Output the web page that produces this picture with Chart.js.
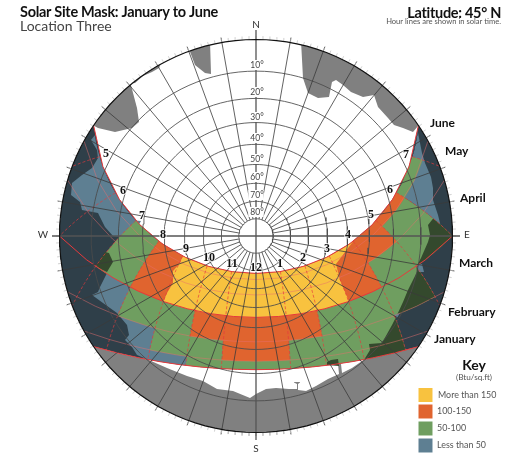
<!DOCTYPE html>
<html>
<head>
<meta charset="utf-8">
<style>html,body{margin:0;padding:0;background:#fff}canvas{display:block}</style>
<script src="https://cdn.jsdelivr.net/npm/chart.js@4"></script>
</head>
<body>
<canvas id="c" width="513" height="456"></canvas>
<script>
// ---- values ----
const LATITUDE = 45;
const DOME_RADIUS = 196.5;            // horizon, in sky-disc units
const altitudes = [10,20,30,40,50,60,70,80];
const azimuths = [0,10,20,30,40,50,60,70,80,90,100,110,120,130,140,150,160,170,180,190,200,210,220,230,240,250,260,270,280,290,300,310,320,330,340,350];
const monthNames = ['June','May','April','March','February','January'];
const JUN=23.45, MAY=20, APR=11.6, MAR=0, FEB=-11.6, JAN=-20, DEC=-23.45;
const boldPaths = [JUN, MAR, DEC];
const palePaths = [MAY, APR, FEB, JAN];
const hourLines = [5,6,7,8,9,10,11,13,14,15,16,17,18,19];
const hourLineEnds = [14.5,0,-14.5,DEC,DEC,DEC,DEC,DEC,DEC,DEC,DEC,-14.5,0,14.5];
const hourLabels = ['5','6','7','8','9','10','11','12','1','2','3','4','5','6','7'];
const keyLabels = ['More than 150','100-150','50-100','Less than 50'];
const keyColors = ['#f8c23f','#e0642f','#6f9e60','#5e7f92'];

// ---- sky projection (stereographic sun chart) ----
const rad = d => d*Math.PI/180;
function sky(az, alt){ const r = DOME_RADIUS*Math.tan(rad((90-alt)/2)); return [r*Math.sin(rad(az)), r*Math.cos(rad(az))]; }
function sun(h, d){
  const H=rad((h-12)*15), dd=rad(d), la=rad(LATITUDE);
  const s=Math.sin(la)*Math.sin(dd)+Math.cos(la)*Math.cos(dd)*Math.cos(H);
  const c=Math.sqrt(1-s*s), r=DOME_RADIUS*Math.tan((Math.PI/2-Math.asin(s))/2);
  return [r*Math.cos(dd)*Math.sin(H)/c, r*(Math.sin(dd)-s*Math.sin(la))/(c*Math.cos(la))];
}
function sunPath(d,h0,h1){ const o=[]; for(let i=0;i<=16;i++) o.push(sun(h0+(h1-h0)*i/16,d)); return o; }
function hourLine(h,d0,d1){ const o=[]; for(let i=0;i<=10;i++) o.push(sun(h,d0+(d1-d0)*i/10)); return o; }
function rimArc(a0,a1){ const o=[],n=Math.max(2,Math.ceil(Math.abs(a1-a0)/2)); for(let i=0;i<=n;i++) o.push(sky(a0+(a1-a0)*i/n,0)); return o; }

// ---- site obstructions seen above the horizon ----
const maskNorthA = [...rimArc(340.3,346.5),[-45,162],[-51,163],[-61,171]];
const maskNorthB = [...rimArc(321,331),[-97,168],[-104,164],[-113,160],[-121,153]];
const maskNorthWest = [...rimArc(304.2,320.4),[-119,128],[-117,114],[-124,108],[-141,104],[-158,108]];
const maskNorthEast = [...rimArc(13.3,55.8),[157,104],[147,108],[138,111],[132,118],[122,129],[118,141],[107,139],[95,144],[87,151],[80,156],[76,154],[73,139],[62,138],[52,143],[47,158]];
const maskSouth = [...rimArc(235.76,124.24),...sunPath(DEC,16.29,15),[96,-132],[86,-137],[85,-128],[82,-128],[83,-138],[72,-143],[60,-150],[50,-155],[42,-154],[42,-148],[44,-146.5],[44,-146],[38,-146],[38,-146.5],[41,-148],[41,-153],[33,-153],[20,-152],[10,-153],[0,-158],[-6,-162],[-23,-155],[-39,-153],[-53,-145],[-69,-140],[-89,-132],...sunPath(DEC,9,7.71)];

// ---- insolation zones on the sun-path diagram ----
const shadedBand = [...sunPath(JUN,4.29,19.71),...rimArc(55.76,124.24),...sunPath(DEC,16.29,7.71),...rimArc(235.76,304.24)];
const blueEast = [...sunPath(JUN,19,19.6),[166,83],[169,73],[175,59],[177,48],[177,36],[182,21],...hourLine(18,5,MAY)];
const blueWestUpper = [...sunPath(JUN,7,4.5),[-165,96],[-159,86],[-158,78],[-164,68],[-174,61],[-184,53],[-185,41],[-176,34],[-174,26],[-158,23],[-151,9],[-143,0],[-125,-2],[-115,15]];
const blueWestLower = [[-149,-37],[-131,-44],[-116,-69],[-86,-84],[-86,-109],[-66,-114],[-64,-126],...sunPath(DEC,10,9),[-119,-119],[-124,-111],[-131,-104],[-127,-99],[-129,-89],[-139,-77],[-153,-67],[-164,-59],[-158,-56],[-156,-51]];
const greenZone = [...sunPath(JUN,7,19),...hourLine(19,JUN,MAY),...sunPath(MAY,19,18),...hourLine(18,MAY,MAR),...sunPath(MAR,18,17),...hourLine(17,MAR,FEB),...sunPath(FEB,17,16),...hourLine(16,FEB,DEC),...sunPath(DEC,16,10),...hourLine(10,DEC,JAN),...sunPath(JAN,10,9),...hourLine(9,JAN,FEB),...sunPath(FEB,9,8),...hourLine(8,FEB,MAR),...sunPath(MAR,8,7),...hourLine(7,MAR,JUN)];
const orangeZone = [...sunPath(JUN,8,18),...hourLine(18,JUN,MAY),...sunPath(MAY,18,17),...hourLine(17,MAY,APR),...sunPath(APR,17,16),...hourLine(16,APR,MAR),...sunPath(MAR,16,14),...hourLine(14,MAR,FEB),...sunPath(FEB,14,13),...hourLine(13,FEB,JAN),...sunPath(JAN,13,11),...hourLine(11,JAN,FEB),...sunPath(FEB,11,10),...hourLine(10,FEB,MAR),...sunPath(MAR,10,8),...hourLine(8,MAR,JUN)];
const yellowZone = [...sunPath(JUN,9,16),[80,-28],[84,-44],[92,-63],...sunPath(MAR,15,9),[-89,-57],[-83,-47],[-83,-35],[-76,-27]];
const darkGreenEast = [[172,11],...hourLine(18,8,MAR),...sunPath(MAR,18,17),[165,-22],[172,-6],[174,1]];
const darkGreenSouthEast = [...hourLine(17,MAR,FEB),...sunPath(FEB,17,16),...hourLine(16,FEB,DEC),...sunPath(DEC,16,15),[114,-114],[113,-108],[126,-107],[136,-89],[141,-79],[147,-66],[152,-54],[161,-36]];
const darkGreenWest = [[-151,-16],sun(7,MAR),[-149,-36],[-143,-26],[-147,-17]];
const darkGreenSpur = [[71,-129],[71,-126],[75,-124],[82,-123],[83,-130]];
const bluePatchA = [[161,-29],[166,-28],[168,-36],[163,-36]];
const bluePatchB = [[138,-79],[144,-77],[141,-82]];

const keyX = [169.5,169.5,169.5,169.5];
const keyY = [-159,-175.5,-192.5,-209.5];

// ---- chart assembly ----
const GREY='#808080', NAVY='#2f3f49', DKGREEN='#34492d';
const xy = p => p.map(q=>({x:q[0],y:q[1]}));
const datasets = [];
function shape(pts,color){ datasets.push({data:xy(pts),showLine:true,fill:'shape',backgroundColor:color,borderColor:'transparent',borderWidth:0,pointRadius:0,clip:false}); }
function stroke(pts,color,w,dash){ datasets.push({data:xy(pts),showLine:true,fill:false,borderColor:color,borderWidth:w,borderDash:dash||[],pointRadius:0,clip:false}); }

[maskNorthA,maskNorthB,maskNorthWest,maskNorthEast,maskSouth].forEach(m=>shape(m,GREY));
shape(shadedBand,NAVY);
[blueEast,blueWestUpper,blueWestLower].forEach(m=>shape(m,keyColors[3]));
shape(greenZone,keyColors[2]);
shape(orangeZone,keyColors[1]);
shape(yellowZone,keyColors[0]);
[darkGreenEast,darkGreenSouthEast,darkGreenWest,darkGreenSpur].forEach(m=>shape(m,DKGREEN));
[bluePatchA,bluePatchB].forEach(m=>shape(m,keyColors[3]));

palePaths.forEach(d=>{ const a=12-Math.acos(-Math.tan(rad(d))*Math.tan(rad(LATITUDE)))*12/Math.PI; stroke(sunPath(d,a,24-a),'rgba(232,110,110,0.6)',0.8); });
hourLines.forEach((h,i)=>stroke(hourLine(h,JUN,hourLineEnds[i]),'rgba(229,57,60,0.85)',0.8,[3,2]));
boldPaths.forEach(d=>{ const a=12-Math.acos(-Math.tan(rad(d))*Math.tan(rad(LATITUDE)))*12/Math.PI; stroke(sunPath(d,a,24-a),'#e5393c',1); });

// altitude rings, azimuth spokes, rim
const circle = alt => { const o=[]; for(let a=0;a<=360;a+=3) o.push(sky(a,alt)); return o; };
altitudes.forEach(a=>stroke(circle(a),'#4a4a4a',0.85));
azimuths.filter(a=>a%90).forEach(a=>{ const e=[(DOME_RADIUS+5)*Math.sin(rad(a)),(DOME_RADIUS+5)*Math.cos(rad(a))]; stroke([sky(a,80),e],'#3a3a3a',0.8); });
for(let a=0;a<360;a+=2){ const s=[DOME_RADIUS*Math.sin(rad(a)),DOME_RADIUS*Math.cos(rad(a))], e=[(DOME_RADIUS+3.5)*Math.sin(rad(a)),(DOME_RADIUS+3.5)*Math.cos(rad(a))]; stroke([s,e],'#bbb',0.7); }
stroke([[0,206],[0,-204]],'#555',1.3);
stroke([[-204,0],[204,0]],'#555',1.3);
stroke(circle(0),'#111',1.2);

// key swatches
datasets.push({data:keyX.map((x,i)=>({x,y:keyY[i]})),showLine:false,pointStyle:'rect',pointRadius:10.6,pointBackgroundColor:keyColors,pointBorderColor:'#fff',pointBorderWidth:1,clip:false});

datasets.forEach((d,i)=>{ d.order=datasets.length-i; });

// ---- text ----
const FACE='Lato, "Open Sans", sans-serif';
const texts = [
 {t:'Solar Site Mask: January to June',x:-236,y:223.5,f:'bold 14.5px '+FACE,c:'#111',a:'left',ls:'-0.3px'},
 {t:'Location Three',x:-236,y:210,f:'14px '+FACE,c:'#444',a:'left'},
 {t:'Latitude: 45° N',x:245,y:223,f:'bold 14.5px '+FACE,c:'#111',a:'right',ls:'-0.3px'},
 {t:'Hour lines are shown in solar time.',x:245,y:214.5,f:'7.6px '+FACE,c:'#555',a:'right'},
 {t:'N',x:0,y:211,f:'10px '+FACE,c:'#333',a:'center'},
 {t:'S',x:0,y:-213,f:'10px '+FACE,c:'#333',a:'center'},
 {t:'W',x:-213,y:1,f:'10px '+FACE,c:'#333',a:'center'},
 {t:'E',x:211,y:1,f:'10px '+FACE,c:'#333',a:'center'},
 {t:'Key',x:218,y:-129,f:'bold 14px '+FACE,c:'#111',a:'center'},
 {t:'(Btu/sq.ft)',x:218,y:-141,f:'8.2px '+FACE,c:'#555',a:'center'}
];
const monthX=[174,189,204,203,192,178], monthY=[113,85,38,-27,-76,-103];
monthNames.forEach((m,i)=>texts.push({t:m,x:monthX[i],y:monthY[i],f:'bold 12px '+FACE,c:'#111',a:'left'}));
const hourX=[-150,-133,-114,-93,-70,-47,-24,0,24,47,71,92,115,134,150], hourY=[82,45,20,1,-13,-22,-28,-32,-28,-22,-13,1,21,46,81];
hourLabels.forEach((m,i)=>texts.push({t:m,x:hourX[i],y:hourY[i],f:'bold 12px "Liberation Serif", serif',c:'#111',a:'center',halo:true}));
const keyTextX=[182,181,181,181];
keyLabels.forEach((m,i)=>texts.push({t:m,x:keyTextX[i],y:keyY[i],f:'8.9px '+FACE,c:'#555',a:'left'}));
const altLabelY=[171,144,119,98,77,59,41,24];

const textPlugin = { id:'texts', afterDatasetsDraw(chart){
  const g=chart.ctx, sx=chart.scales.x, sy=chart.scales.y;
  g.save(); g.textBaseline='middle';
  altitudes.forEach((a,i)=>{
    g.font='8.5px '+FACE; g.textAlign='center';
    const px=sx.getPixelForValue(0), py=sy.getPixelForValue(altLabelY[i]), s=a+'°', w=g.measureText(s).width;
    g.fillStyle='#fff'; g.fillRect(px-w/2-1,py-5,w+2,10);
    g.fillStyle='#444'; g.fillText(s,px+1,py);
  });
  texts.forEach(o=>{
    g.font=o.f; g.textAlign=o.a; g.letterSpacing=o.ls||'0px';
    const px=sx.getPixelForValue(o.x), py=sy.getPixelForValue(o.y);
    if(o.halo){ g.strokeStyle='rgba(255,255,255,0.75)'; g.lineWidth=2; g.strokeText(o.t,px,py); }
    g.fillStyle=o.c; g.fillText(o.t,px,py);
  });
  g.restore();
}};

new Chart(document.getElementById('c'),{
  type:'scatter',
  data:{datasets},
  plugins:[textPlugin],
  options:{
    responsive:false, animation:false, devicePixelRatio:1,
    layout:{padding:0,autoPadding:false},
    plugins:{legend:{display:false},tooltip:{enabled:false},title:{display:false}},
    scales:{
      x:{type:'linear',min:-256,max:257,display:false},
      y:{type:'linear',min:-220,max:236,display:false}
    }
  }
});
</script>
</body>
</html>
